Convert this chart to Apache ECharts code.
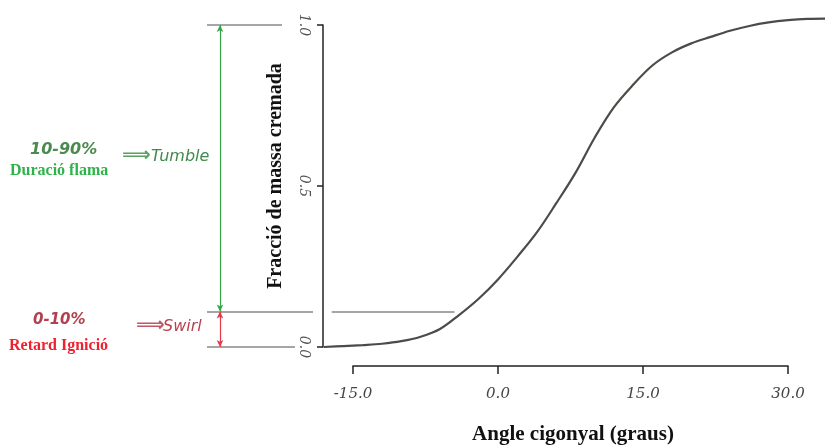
<!DOCTYPE html>
<html>
<head>
<meta charset="utf-8">
<script src="https://cdn.jsdelivr.net/npm/echarts@6/dist/echarts.min.js"></script>
<style>
  html, body { margin: 0; padding: 0; background: #fff; }
  #chart { width: 825px; height: 446px; }
</style>
</head>
<body>
<div id="chart"></div>
<script>
// crank angle (deg) and burned mass fraction
var angle  = [-18, -16, -14, -12, -10, -8, -6, -4, -2, 0, 2, 4, 6, 8, 10, 12, 14, 16, 18, 20, 22, 24, 26, 28, 30, 32, 34];
var burned = [0.0, 0.003, 0.006, 0.010, 0.018, 0.032, 0.056, 0.10, 0.15, 0.21, 0.28, 0.355, 0.445, 0.54, 0.65, 0.745, 0.815, 0.875, 0.915, 0.943, 0.963, 0.982, 0.997, 1.008, 1.015, 1.019, 1.02];

var xTicks = [-15, 0, 15, 30];
var yTicks = [0, 0.5, 1];

// phase boundaries (fraction) : start, end of ignition delay, end of burn
var phaseLevel = [0, 0.11, 1];
// the short guide from the axis to the curve at the 10% level
var guideFrom = -17.2, guideTo = -4.5;

var chartInstance = echarts.init(document.getElementById("chart"));

var curve = angle.map(function (a, i) { return [a, burned[i]]; });

var numFont = { fontFamily: "DejaVu Serif", fontStyle: "italic", fontSize: 15, color: "#444" };

var option = {
  animation: false,
  grid: [
    // main plot (curve + y axis)
    { left: 323, right: 0, top: 25, height: 322 },
    // separate x axis below the plot
    { left: 353, width: 435, top: 360, height: 11 },
    // left annotation strip
    { left: 200, width: 123, top: 25, height: 322 },
  ],
  xAxis: [
    { gridIndex: 0, type: "value", min: -18.1, max: 33.83, show: false },
    {
      gridIndex: 1, type: "value", min: xTicks[0], max: xTicks[xTicks.length - 1], interval: 15,
      axisLine: { show: true, onZero: false, lineStyle: { color: "#222", width: 1.5 } },
      axisTick: { show: true, length: 8, lineStyle: { color: "#222", width: 1.5 } },
      splitLine: { show: false },
      axisLabel: Object.assign({ margin: 21, formatter: function (v) { return v.toFixed(1); } }, numFont),
      name: "Angle cigonyal (graus)",
      nameLocation: "middle",
      nameGap: 58,
      nameTextStyle: { fontFamily: "Liberation Serif", fontWeight: "bold", fontSize: 21, color: "#111", padding: [0, 0, 0, 5] },
    },
    { gridIndex: 2, type: "value", min: 0, max: 123, show: false },
  ],
  yAxis: [
    {
      gridIndex: 0, type: "value", min: yTicks[0], max: yTicks[yTicks.length - 1], interval: 0.5,
      axisLine: { show: true, onZero: false, lineStyle: { color: "#222", width: 1.5 } },
      axisTick: { show: true, length: 6, lineStyle: { color: "#222", width: 1.5 } },
      splitLine: { show: false },
      axisLabel: Object.assign({ rotate: -90, margin: 12, formatter: function (v) { return v.toFixed(1); } }, numFont, { color: "#555", fontSize: 14 }),
      name: "Fracció de massa cremada",
      nameLocation: "middle",
      nameGap: 37,
      nameRotate: 90,
      nameTextStyle: { fontFamily: "Liberation Serif", fontWeight: "bold", fontSize: 20, color: "#111", padding: [0, 0, 0, 20] },
    },
    { gridIndex: 1, type: "value", min: 0, max: 1, show: false },
    { gridIndex: 2, type: "value", min: 0, max: 1, show: false },
  ],
  series: [
    {
      type: "line",
      xAxisIndex: 0, yAxisIndex: 0,
      data: curve,
      smooth: 0.35,
      showSymbol: false,
      clip: false,
      lineStyle: { color: "#4b4b47", width: 2.2 },
      markLine: {
        silent: true,
        symbol: ["none", "none"],
        label: { show: false },
        lineStyle: { color: "#a6a6a6", width: 2, type: "solid" },
        data: [[{ coord: [guideFrom, phaseLevel[1]] }, { coord: [guideTo, phaseLevel[1]] }]],
      },
    },
    {
      // grey level lines at the left
      type: "line", xAxisIndex: 2, yAxisIndex: 2, data: [],
      markLine: {
        silent: true,
        symbol: ["none", "none"],
        label: { show: false },
        lineStyle: { color: "#a6a6a6", width: 2, type: "solid" },
        data: [
          [{ coord: [7, phaseLevel[2]] }, { coord: [82, phaseLevel[2]] }],
          [{ coord: [7, phaseLevel[1]] }, { coord: [113, phaseLevel[1]] }],
          [{ coord: [7, phaseLevel[0]] }, { coord: [95, phaseLevel[0]] }],
        ],
      },
    },
    {
      // flame duration arrow
      type: "line", xAxisIndex: 2, yAxisIndex: 2, data: [],
      markLine: {
        silent: true,
        symbol: ["arrow", "arrow"],
        symbolSize: [5, 7],
        label: { show: false },
        lineStyle: { color: "#36a546", width: 1.2, type: "solid" },
        data: [[{ coord: [20, phaseLevel[2]] }, { coord: [20, phaseLevel[1]] }]],
      },
    },
    {
      // ignition delay arrow
      type: "line", xAxisIndex: 2, yAxisIndex: 2, data: [],
      markLine: {
        silent: true,
        symbol: ["arrow", "arrow"],
        symbolSize: [5, 7],
        label: { show: false },
        lineStyle: { color: "#e23a48", width: 1.2, type: "solid" },
        data: [[{ coord: [20, phaseLevel[1]] }, { coord: [20, phaseLevel[0]] }]],
      },
    },
  ],
  graphic: [
    { type: "text", left: 30, top: 142, style: { text: "10-90%", font: "italic bold 16px 'DejaVu Sans'", fill: "#4d8a4f" } },
    { type: "text", left: 10, top: 163, style: { text: "Duració flama", font: "bold 16px 'Liberation Serif'", fill: "#2fb24a" } },
    { type: "text", left: 122, top: 146, style: { text: "\u27F9", font: "bold 20px 'DejaVu Sans'", fill: "#5aa060" } },
    { type: "text", left: 151, top: 149, style: { text: "Tumble", font: "italic 16px 'DejaVu Sans'", fill: "#3f8a4c" } },
    { type: "text", left: 33, top: 313, style: { text: "0-10%", font: "italic bold 15px 'DejaVu Sans'", fill: "#b2404f" } },
    { type: "text", left: 9, top: 338, style: { text: "Retard Ignició", font: "bold 16px 'Liberation Serif'", fill: "#f0202e" } },
    { type: "text", left: 136, top: 316, style: { text: "\u27F9", font: "bold 20px 'DejaVu Sans'", fill: "#c05868" } },
    { type: "text", left: 163, top: 319, style: { text: "Swirl", font: "italic 16px 'DejaVu Sans'", fill: "#b84050" } },
  ],
};

chartInstance.setOption(option);
</script>
</body>
</html>
